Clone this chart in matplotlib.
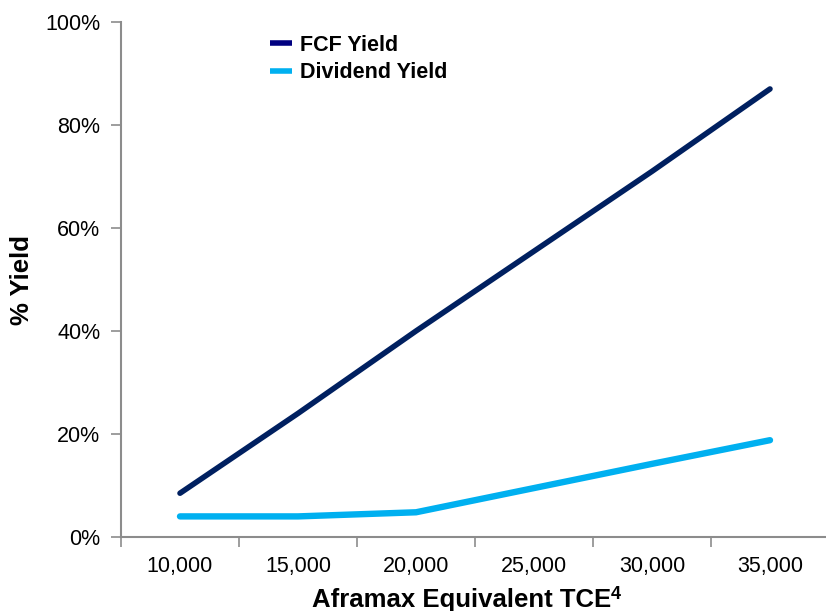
import matplotlib
matplotlib.use("Agg")
import matplotlib.pyplot as plt
from matplotlib.ticker import FuncFormatter, FixedLocator

plt.rcParams['font.family'] = ['Liberation Sans', 'DejaVu Sans']

categories = ["10,000", "15,000", "20,000", "25,000", "30,000", "35,000"]
fcf_yield = [8.5, 24.0, 40.0, 55.5, 71.0, 87.0]
dividend_yield = [4.0, 4.0, 4.8, 9.5, 14.2, 18.8]
series_names = ["FCF Yield", "Dividend Yield"]

W, H = 826, 611
fig = plt.figure(figsize=(W / 100, H / 100), dpi=100)
left, right, bottom, top = 121, 829, 537, 22
ax = fig.add_axes([left / W, (H - bottom) / H, (right - left) / W, (bottom - top) / H])

x = list(range(len(categories)))
ax.plot(x, fcf_yield, color="#002060", lw=4.0, solid_capstyle='round', label=series_names[0])
ax.plot(x, dividend_yield, color="#00B0F0", lw=4.6, solid_capstyle='round', label=series_names[1])

ax.set_xlim(-0.5, len(categories) - 0.5)
ax.set_ylim(0, 100)
ax.xaxis.set_major_locator(FixedLocator([i - 0.5 for i in range(len(categories) + 1)]))
ax.xaxis.set_minor_locator(FixedLocator(x))
ax.set_xticklabels([])
ax.set_xticklabels(categories, minor=True)
ax.tick_params(axis='x', which='minor', length=0, pad=14, labelsize=15.5)
ax.tick_params(axis='x', which='major', length=7, width=1.2, color="#8c8c8c", direction='out')
ax.set_yticks([0, 20, 40, 60, 80, 100])
ax.yaxis.set_major_formatter(FuncFormatter(lambda v, p: f"{int(v)}%"))
ax.tick_params(axis='y', length=7, width=1.2, color="#8c8c8c", labelsize=15.5, pad=8)

for s in ['top', 'right']:
    ax.spines[s].set_visible(False)
for s in ['left', 'bottom']:
    ax.spines[s].set_color("#8c8c8c")
    ax.spines[s].set_linewidth(1.5)

fig.text(22 / W, 1 - 280 / H, "% Yield", rotation=90, fontsize=18.5, fontweight='bold',
         ha='center', va='center')
xl = fig.text(462 / W, 1 - 607 / H, "Aframax Equivalent TCE", fontsize=18.5,
              fontweight='bold', ha='center', va='baseline')
fig.canvas.draw()
bb = xl.get_window_extent(fig.canvas.get_renderer())
fig.text((bb.x1 - 1) / W, 1 - 599 / H, "4", fontsize=13, fontweight='bold',
         ha='left', va='baseline')

leg = ax.legend(loc='upper left', bbox_to_anchor=(270 / W, 1 - 35 / H), bbox_transform=fig.transFigure,
                frameon=False, fontsize=15.5, handlelength=1.0, handletextpad=0.38,
                borderpad=0, labelspacing=0.3, borderaxespad=0)
leg.get_lines()[0].set_color("#000080")
for t in leg.get_texts():
    t.set_fontweight('bold')
for l in leg.get_lines():
    l.set_linewidth(4)
    l.set_solid_capstyle('butt')

fig.savefig("out.png", dpi=100)
